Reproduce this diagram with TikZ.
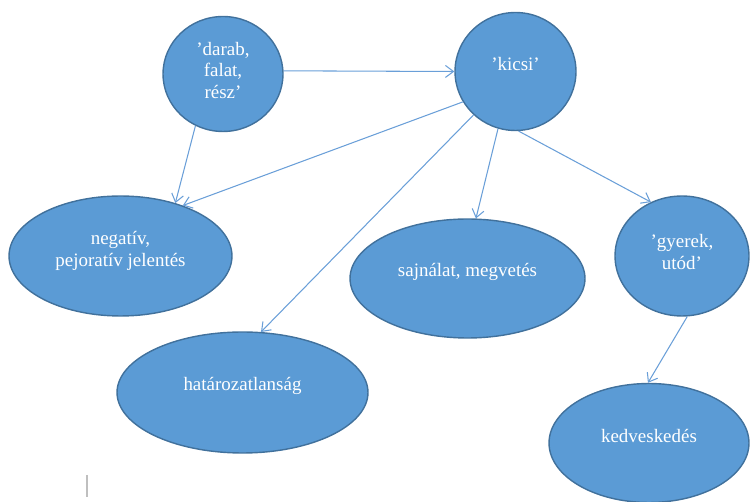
\documentclass[tikz,border=0pt]{standalone}
\usepackage{fontspec}
\setmainfont{Liberation Serif}
\usetikzlibrary{shapes.geometric,arrows.meta}
\definecolor{bubfill}{HTML}{5B9BD5}
\definecolor{bubline}{HTML}{41719C}
\definecolor{arrline}{HTML}{6A9FD8}
\tikzset{
  bub/.style={ellipse,draw=bubline,fill=bubfill,line width=0.8pt,inner sep=0pt},
  txt/.style={text=white,align=center,inner sep=0pt,font=\fontsize{10.8}{12.5}\selectfont},
  arr/.style={draw=arrline,line width=0.6pt,-{Straight Barb[length=1.6mm,width=2.4mm]}}
}
\begin{document}
\begin{tikzpicture}[x=0.02cm,y=-0.02cm]
\useasboundingbox (0,0) rectangle (750,502);
% bubbles
\node[bub,minimum width=2.4cm,minimum height=2.3cm] (darab) at (223,74) {};
\node[bub,minimum width=2.42cm,minimum height=2.36cm] (kicsi) at (515.5,71.5) {};
\node[bub,minimum width=4.46cm,minimum height=2.4cm] (neg) at (120.5,256) {};
\node[bub,minimum width=4.7cm,minimum height=2.38cm] (sajn) at (467.5,278.5) {};
\node[bub,minimum width=2.68cm,minimum height=2.4cm] (gyerek) at (682,256) {};
\node[bub,minimum width=5.02cm,minimum height=2.42cm] (hat) at (242.5,392.5) {};
\node[bub,minimum width=4.0cm,minimum height=2.38cm] (kedv) at (649,443) {};
% texts
\node[txt] (darabt) at ([yshift=2pt]darab.center) {’darab,\\falat,\\rész’};
\node[txt] (kicsit) at ([yshift=4pt]kicsi.center) {’kicsi’};
\node[txt] (negt) at ([yshift=3pt]neg.center) {negatív,\\pejoratív jelentés};
\node[txt] (sajnt) at ([yshift=4pt]sajn.center) {sajnálat, megvetés};
\node[txt] (gyerekt) at ([yshift=2.5pt]gyerek.center) {’gyerek,\\utód’};
\node[txt] (hatt) at ([yshift=4pt]hat.center) {határozatlanság};
\node[txt] (kedvt) at ([yshift=4pt]kedv.center) {kedveskedés};
% arrows
\draw[arr] (darab.3) -- (kicsi.180);
\draw[arr] (darab.242) -- (neg.44);
\draw[arr] (kicsi.210) -- (neg.39);
\draw[arr] (kicsi.226) -- (hat.73);
\draw[arr] (kicsi.253) -- (sajn.82);
\draw[arr] (kicsi.273) -- (gyerek.120);
\draw[arr] (gyerek.275) -- (kedv.91);
% cursor mark
\draw[gray!50,line width=0.6pt] (87,475) -- (87,497);
\end{tikzpicture}
\end{document}
